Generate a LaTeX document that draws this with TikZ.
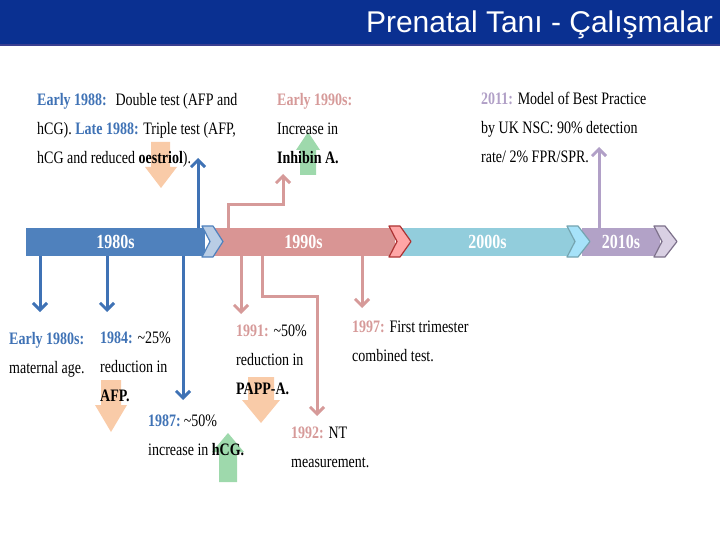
\documentclass[tikz,border=0pt]{standalone}
\usepackage{fontspec}
\setmainfont{Liberation Serif}[FakeStretch=0.8]
\newfontfamily\titlefont{Liberation Sans}
\usetikzlibrary{arrows.meta}
\definecolor{band}{HTML}{0A3091}
\definecolor{bandline}{HTML}{3A3F91}
\definecolor{c80}{HTML}{4F81BD}
\definecolor{c90}{HTML}{D99594}
\definecolor{c00}{HTML}{92CDDC}
\definecolor{c10}{HTML}{B2A2C7}
\definecolor{lblue}{HTML}{3F72B5}
\definecolor{lpink}{HTML}{D69A99}
\definecolor{lpurple}{HTML}{B1A0C7}
\definecolor{peach}{HTML}{F8BE92}
\definecolor{mint}{HTML}{86CF97}
\tikzset{bar/.style={minimum height=28pt,inner sep=0pt,text=white,font=\fontsize{20}{20}\selectfont\bfseries},
chev/.style={line width=1.2pt,line join=round},
link/.style={line width=3pt,-{Straight Barb[length=7pt,width=14pt]}},
note/.style={anchor=base west,align=left,inner sep=0pt,font=\fontsize{17.5}{29}\selectfont},
blockarrow/.style={fill opacity=.8,draw=none}}

\begin{document}
\begin{tikzpicture}[x=1pt,y=-1pt]
\useasboundingbox (0,0) rectangle (720,540);
\fill[band] (0,0) rectangle (720,44);
\fill[bandline] (0,44) rectangle (720,46.5);
\node[anchor=base east,text=white,inner sep=0pt,font=\titlefont\fontsize{30}{30}\selectfont] (title) at (713,33) {Prenatal Tanı - Çalışmalar};
\node[bar,fill=c80,minimum width=179pt] (b80) at (115.5,242) {1980s};
\node[bar,fill=c90,minimum width=183pt] (b90) at (303.5,242) {1990s};
\node[bar,fill=c00,minimum width=175pt] (b00) at (487.5,242) {2000s};
\node[bar,fill=c10,minimum width=78pt] (b10) at (621,242) {2010s};
\draw[chev,fill=c80!40,draw=c80] (202,226)--(213,226)--(223,241.5)--(213,257)--(202,257)--(210,241.5)--cycle;
\draw[chev,fill=red!35,draw=red!60!black!80] (389,226)--(400,226)--(411,241.5)--(400,257)--(389,257)--(397,241.5)--cycle;
\draw[chev,fill=cyan!35,draw=c00!80!black] (567,226)--(578,226)--(590,241.5)--(578,257)--(567,257)--(575,241.5)--cycle;
\draw[chev,fill=c10!50,draw=c10!70!black] (654,226)--(665,226)--(677,241.5)--(665,257)--(654,257)--(662,241.5)--cycle;
\fill[blockarrow,peach] (151,142)--(170,142)--(170,167)--(177,167)--(161,188)--(145,167)--(151,167)--cycle;
\fill[blockarrow,mint] (300,175)--(316,175)--(316,150)--(320,150)--(308,132)--(296,150)--(300,150)--cycle;
\fill[blockarrow,peach] (101,380)--(121,380)--(121,405)--(127,405)--(111,432)--(95,405)--(101,405)--cycle;
\fill[blockarrow,mint] (219,482)--(237,482)--(237,452)--(244,452)--(228,433)--(212,452)--(219,452)--cycle;
\fill[blockarrow,peach] (248,377)--(274,377)--(274,400)--(280,400)--(261,423)--(242,400)--(248,400)--cycle;
\coordinate (t80) at (40,312);
\coordinate (t84) at (107,312);
\coordinate (t87) at (183,400);
\coordinate (t88) at (198,158);
\coordinate (k90) at (228,205);
\coordinate (u90) at (283,174);
\coordinate (t91) at (241,314);
\coordinate (k92) at (262,296);
\coordinate (t92) at (317,416);
\coordinate (t97) at (362,308);
\coordinate (t11) at (599,147);
\draw[link,lblue] (b80.south -| t80) -- (t80);
\draw[link,lblue] (b80.south -| t84) -- (t84);
\draw[link,lblue] (b80.south -| t87) -- (t87);
\draw[link,lblue] (b80.north -| t88) -- (t88);
\draw[link,lpink] (b90.north -| k90) -- (k90) -| (u90);
\draw[link,lpink] (b90.south -| t91) -- (t91);
\draw[link,lpink] (b90.south -| k92) -- (k92) -| (t92);
\draw[link,lpink] (b90.south -| t97) -- (t97);
\draw[link,lpurple] (b10.north -| t11) -- (t11);
\node[note] (n88) at (37,164) {\textcolor{lblue}{\textbf{Early 1988:}}\enspace Double test (AFP and\\hCG). \textcolor{lblue}{\textbf{Late 1988:}} Triple test (AFP,\\hCG and reduced \textbf{oestriol}).};
\node[note] (n90) at (277,164) {\textcolor{lpink}{\textbf{Early 1990s:}}\\Increase in\\\textbf{Inhibin A.}};
\node[note] (n11) at (481,163) {\textcolor{lpurple}{\textbf{2011:}} Model of Best Practice\\by UK NSC: 90\% detection\\rate/ 2\% FPR/SPR.};
\node[note] (n80) at (9,373) {\textcolor{lblue}{\textbf{Early 1980s:}}\\maternal age.};
\node[note] (n84) at (100,401) {\textcolor{lblue}{\textbf{1984:}} \textasciitilde25\%\\reduction in\\\textbf{AFP.}};
\node[note] (n87) at (148,455) {\textcolor{lblue}{\textbf{1987:}}\,\textasciitilde50\%\\increase in \textbf{hCG.}};
\node[note] (n91) at (236,394) {\textcolor{lpink}{\textbf{1991:}} \textasciitilde50\%\\reduction in\\\textbf{PAPP-A.}};
\node[note] (n97) at (352,361) {\textcolor{lpink}{\textbf{1997:}} First trimester\\combined test.};
\node[note] (n92) at (291,467) {\textcolor{lpink}{\textbf{1992:}} NT\\measurement.};
\end{tikzpicture}
\end{document}
